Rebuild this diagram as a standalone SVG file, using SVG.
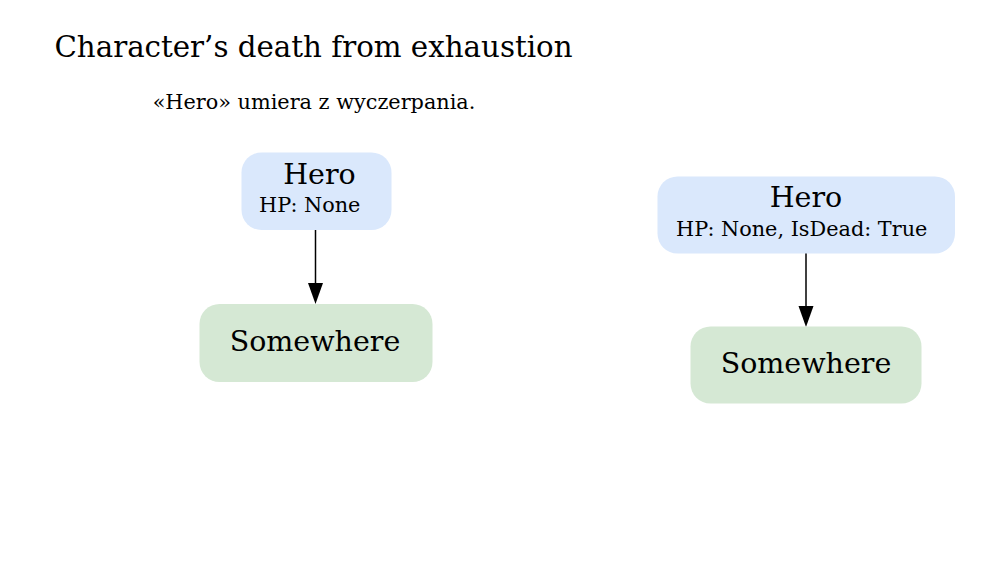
<svg xmlns="http://www.w3.org/2000/svg" width="982" height="581" viewBox="0 0 982 581">
<style>
text{font-family:"DejaVu Serif",serif;fill:#000}
.hero{fill:#dae8fc}
.place{fill:#d5e8d4}
.big{font-size:28.5px}
.small{font-size:20.8px}
.edge{stroke:#000;stroke-width:1.5;fill:none}
</style>
<rect width="982" height="581" fill="#fff"/>
<text x="313.5" y="57" font-size="29.3" text-anchor="middle">Character’s death from exhaustion</text>
<text x="314" y="109" font-size="20.8" text-anchor="middle">«Hero» umiera z wyczerpania.</text>
<g id="connectors">
<path class="edge" d="M315.5,230 L315.5,283"/>
<path d="M308,283 L323,283 L315.5,304 z" fill="#000"/>
<path class="edge" d="M806,253 L806,306"/>
<path d="M798.5,306 L813.5,306 L806,327 z" fill="#000"/>
</g>
<g id="hero1">
<rect class="hero" x="241.5" y="152.5" width="150" height="77.5" rx="20"/>
<text class="big" x="319.5" y="183.5" text-anchor="middle">Hero</text>
<text class="small" x="259" y="212">HP: None</text>
</g>
<g id="somewhere1">
<rect class="place" x="199.5" y="304" width="233" height="78" rx="20"/>
<text class="big" x="315" y="351" text-anchor="middle">Somewhere</text>
</g>
<g id="hero2">
<rect class="hero" x="657.5" y="176.5" width="297.5" height="77" rx="20"/>
<text class="big" x="806" y="206.5" text-anchor="middle">Hero</text>
<text class="small" x="676" y="235.5">HP: None, IsDead: True</text>
</g>
<g id="somewhere2">
<rect class="place" x="690.5" y="326.5" width="231" height="77" rx="20"/>
<text class="big" x="806" y="372.5" text-anchor="middle">Somewhere</text>
</g>
</svg>
